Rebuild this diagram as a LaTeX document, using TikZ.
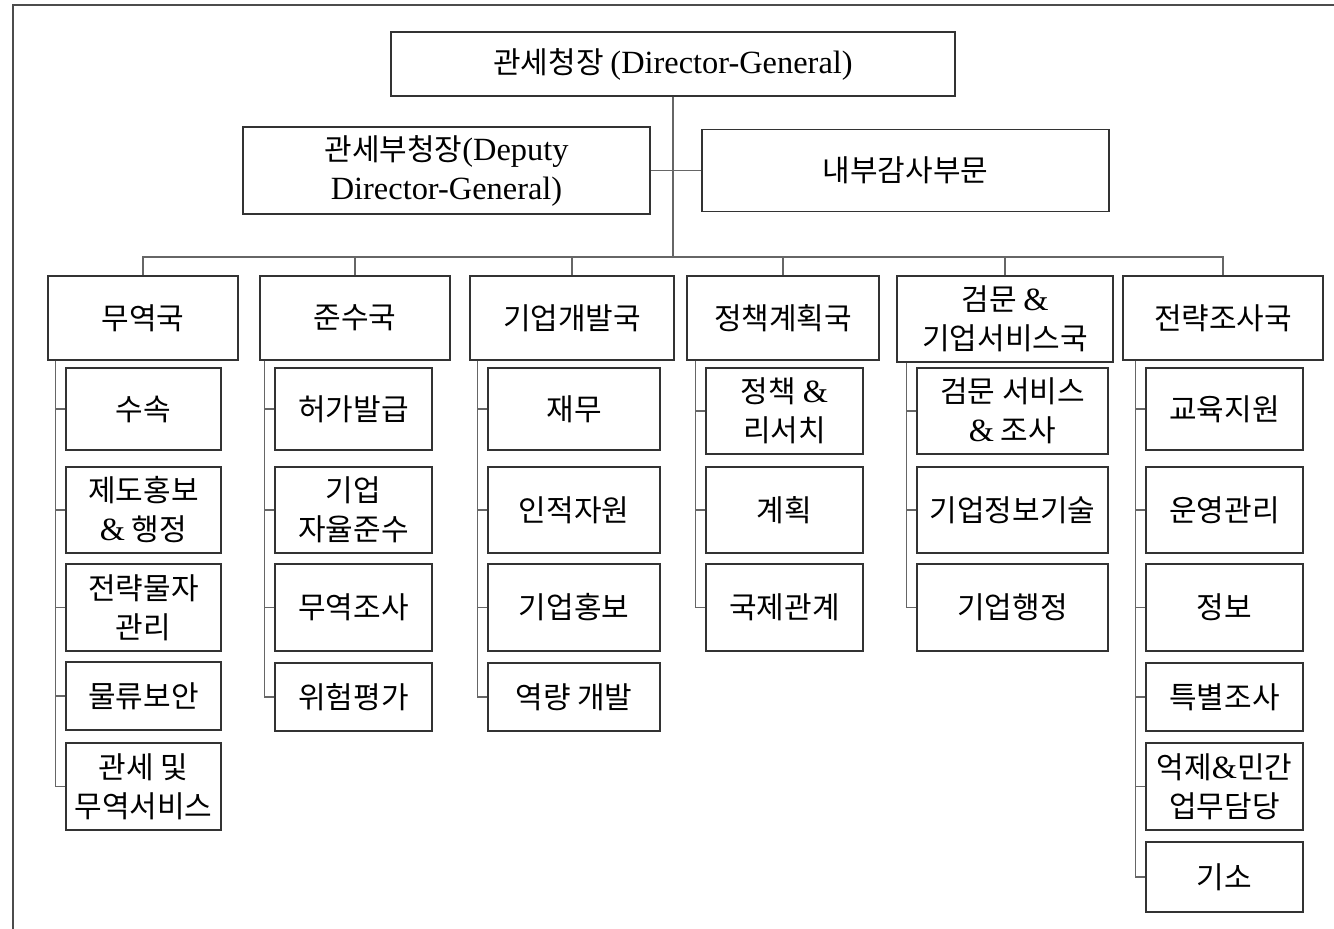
\documentclass[tikz,border=0pt]{standalone}
\usepackage{fontspec}
\setmainfont{Liberation Serif}
\newfontfamily\krfont{Noto Sans CJK KR}
\newfontfamily\enfont{Liberation Serif}[Scale=1.08]
\newcommand{\entxt}[1]{{\enfont #1}}
\usepackage{tikz}
\usetikzlibrary{positioning}

\begin{document}
\begin{tikzpicture}[x=0.5pt, y=-0.5pt,
    box/.style={draw=black!80, line width=0.75pt, rectangle, inner sep=2pt,
        align=center, font=\krfont\fontsize{15}{19.5}\selectfont},
    link/.style={draw=black!60, line width=0.6pt}]

        \useasboundingbox (0,0) rectangle (1334,929);

        % frame, only its top and left edges show
        \draw[black!70, line width=1pt] (13,929) -- (13,5) -- (1334,5);

        % Scope for the head office
        \begin{scope}
            \node[box, minimum width=282pt, minimum height=32pt] (DG) at (673,64)
                {관세청장 \entxt{(Director-General)}};
            \node[box, minimum width=203.5pt, minimum height=43.5pt] (DDG) at (446.5,170.5)
                {관세부청장\entxt{(Deputy}\\\entxt{Director-General)}};
            \node[box, minimum width=203.5pt, minimum height=41pt] (IA) at (905.5,170.5)
                {내부감사부문};
            \coordinate (bus) at (673,257);
        \end{scope}

        % Scope for the six bureaus
        \begin{scope}[every node/.append style={minimum height=42pt}]
            \node[box, minimum width=95pt] (B1) at (143,318) {무역국};
            \node[box, minimum width=95pt] (B2) at (355,318) {준수국};
            \node[box, minimum width=102pt] (B3) at (572,318) {기업개발국};
            \node[box, minimum width=96pt] (B4) at (783,318) {정책계획국};
            \node[box, minimum width=108pt, minimum height=43pt] (B5) at (1005,319)
                {검문 \entxt{\&}\\기업서비스국};
            \node[box, minimum width=100pt] (B6) at (1223,318) {전략조사국};
        \end{scope}

        % units of each bureau
        \begin{scope}[every node/.append style={minimum width=77.5pt}]
            \node[box, minimum height=41pt] (U11) at (143.5,409) {수속};
            \node[box, minimum height=43pt] (U12) at (143.5,510) {제도홍보\\\entxt{\&} 행정};
            \node[box, minimum height=43.5pt] (U13) at (143.5,607.5) {전략물자\\관리};
            \node[box, minimum height=34pt] (U14) at (143.5,696) {물류보안};
            \node[box, minimum height=43.5pt] (U15) at (143.5,786.5) {관세 및\\무역서비스};
        \end{scope}

        \begin{scope}[every node/.append style={minimum width=78.5pt}]
            \node[box, minimum height=41pt] (U21) at (353.5,409) {허가발급};
            \node[box, minimum height=43pt] (U22) at (353.5,510) {기업\\자율준수};
            \node[box, minimum height=43.5pt] (U23) at (353.5,607.5) {무역조사};
            \node[box, minimum height=34pt] (U24) at (353.5,697) {위험평가};
        \end{scope}

        \begin{scope}[every node/.append style={minimum width=86pt}]
            \node[box, minimum height=41pt] (U31) at (574,409) {재무};
            \node[box, minimum height=43pt] (U32) at (574,510) {인적자원};
            \node[box, minimum height=43.5pt] (U33) at (574,607.5) {기업홍보};
            \node[box, minimum height=34pt] (U34) at (574,697) {역량 개발};
        \end{scope}

        \begin{scope}[every node/.append style={minimum width=78.5pt}]
            \node[box, minimum height=43pt] (U41) at (784.5,411) {정책 \entxt{\&}\\리서치};
            \node[box, minimum height=43pt] (U42) at (784.5,510) {계획};
            \node[box, minimum height=43.5pt] (U43) at (784.5,607.5) {국제관계};
        \end{scope}

        \begin{scope}[every node/.append style={minimum width=95.5pt}]
            \node[box, minimum height=43pt] (U51) at (1012.5,411) {검문 서비스\\\entxt{\&} 조사};
            \node[box, minimum height=43pt] (U52) at (1012.5,510) {기업정보기술};
            \node[box, minimum height=43.5pt] (U53) at (1012.5,607.5) {기업행정};
        \end{scope}

        \begin{scope}[every node/.append style={minimum width=78.5pt}]
            \node[box, minimum height=41pt] (U61) at (1224.5,409) {교육지원};
            \node[box, minimum height=43pt] (U62) at (1224.5,510) {운영관리};
            \node[box, minimum height=43.5pt] (U63) at (1224.5,607.5) {정보};
            \node[box, minimum height=34pt] (U64) at (1224.5,697) {특별조사};
            \node[box, minimum height=43.5pt] (U65) at (1224.5,786.5) {억제\entxt{\&}민간\\업무담당};
            \node[box, minimum height=35pt] (U66) at (1224.5,877) {기소};
        \end{scope}

        \begin{scope}[link]
            \draw (DG) -- (bus);
            \draw (DDG.east) -- (IA.west);
            \draw (B1.north) |- (bus) -| (B6.north);
            \foreach \b in {B2,B3,B4,B5}
                \draw (\b.north) -- (\b.north |- bus);

            \draw ([xshift=-5pt]U11.west |- B1.south) -- ([xshift=-5pt]U15.west);
            \draw ([xshift=-5pt]U21.west |- B2.south) -- ([xshift=-5pt]U24.west);
            \draw ([xshift=-5pt]U31.west |- B3.south) -- ([xshift=-5pt]U34.west);
            \draw ([xshift=-5pt]U41.west |- B4.south) -- ([xshift=-5pt]U43.west);
            \draw ([xshift=-5pt]U51.west |- B5.south) -- ([xshift=-5pt]U53.west);
            \draw ([xshift=-5pt]U61.west |- B6.south) -- ([xshift=-5pt]U66.west);
            \foreach \u in {U11,U12,U13,U14,U15,U21,U22,U23,U24,U31,U32,U33,U34,
                            U41,U42,U43,U51,U52,U53,U61,U62,U63,U64,U65,U66}
                \draw (\u.west) -- ++(-5pt,0);
        \end{scope}

        \end{tikzpicture}
\end{document}
